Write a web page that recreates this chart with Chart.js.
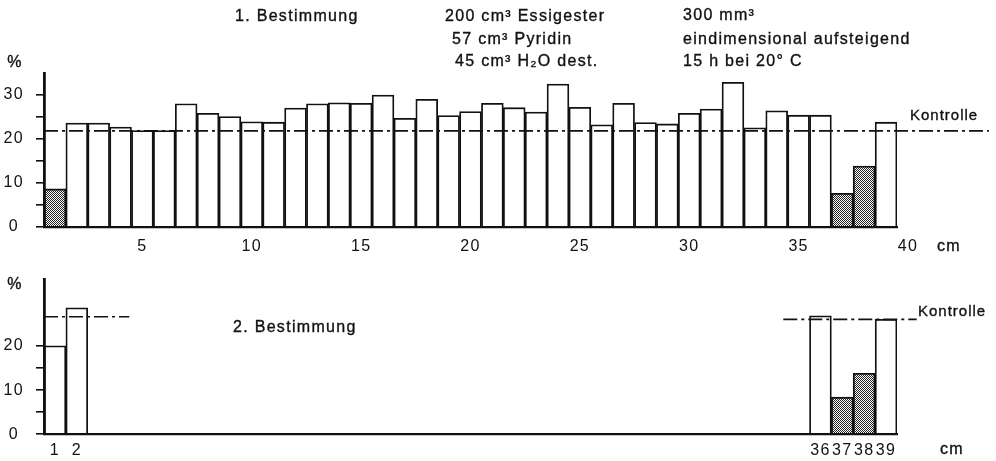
<!DOCTYPE html>
<html lang="de">
<head>
  <meta charset="UTF-8" />
  <title>1. und 2. Bestimmung</title>
  <script src="https://cdn.jsdelivr.net/npm/chart.js"></script>
  <style>
    html, body { margin: 0; padding: 0; background: #fff; }
    #wrap { position: relative; width: 996px; height: 461px; }
    canvas { position: absolute; left: 0; }
    #top { top: 0; }
    #bottom { top: 258px; }
  </style>
</head>
<body>
  <div id="wrap">
    <canvas id="top" width="996" height="258"></canvas>
    <canvas id="bottom" width="996" height="203"></canvas>
  </div>

  <script>
    // 1. Bestimmung: Abschnitte 1..39 cm, Werte in %
    const positions1 = [1, 2, 3, 4, 5, 6, 7, 8, 9, 10, 11, 12, 13, 14, 15, 16, 17, 18, 19, 20,
                        21, 22, 23, 24, 25, 26, 27, 28, 29, 30, 31, 32, 33, 34, 35, 36, 37, 38, 39];
    const values1 = [8.6, 23.6, 23.6, 22.7, 21.9, 21.9, 28.0, 25.8, 25.1, 23.9,
                     23.8, 27.0, 28.0, 28.2, 28.1, 30.0, 24.7, 29.0, 25.3, 26.2,
                     28.1, 27.1, 26.1, 32.5, 27.2, 23.2, 28.1, 23.7, 23.4, 25.8,
                     26.8, 32.9, 22.5, 26.4, 25.4, 25.4, 7.6, 13.8, 23.8];
    const dotted1 = [1, 37, 38];
    const control1 = 21.8;
    const control1Span = [0, 43.2];

    // 2. Bestimmung
    const positions2 = [1, 2, 36, 37, 38, 39];
    const values2 = [20, 28.6, 26.8, 8.4, 13.8, 26.0];
    const dotted2 = [37, 38];
    const control2Left = 26.6;
    const control2LeftSpan = [0, 3.9];
    const control2Right = 26.0;
    const control2RightSpan = [33.8, 39.9];

    // Achsen
    const xTicks1 = [5, 10, 15, 20, 25, 30, 35, 40];
    const xTicks2 = [1, 2, 36, 37, 38, 39];
    const yTicks1 = [0, 5, 10, 15, 20, 25, 30];
    const yTicks2 = [0, 5, 10, 15, 20];
    const yLabelled = [0, 10, 20, 30];

    const INK = '#111';
    const FONT = "'Liberation Sans', Arial, sans-serif";
    Chart.defaults.font.family = FONT;
    Chart.defaults.font.size = 16;
    Chart.defaults.color = INK;

    // feines Punktraster fuer die dunklen Balken
    function stipple() {
      const c = document.createElement('canvas');
      c.width = 2; c.height = 2;
      const g = c.getContext('2d');
      g.fillStyle = '#fff'; g.fillRect(0, 0, 2, 2);
      g.fillStyle = '#222'; g.fillRect(0, 0, 1, 1); g.fillRect(1, 1, 1, 1);
      return g.createPattern(c, 'repeat');
    }
    const dots = stipple();

    // freie Beschriftungen (Titel, %, cm, Kontrolle)
    const notes = {
      id: 'notes',
      beforeLayout(chart) { chart.ctx.letterSpacing = '1.3px'; },
      beforeDraw(chart) { chart.ctx.letterSpacing = '1.3px'; },
      afterDraw(chart, args, opts) {
        const ctx = chart.ctx;
        ctx.save();
        ctx.fillStyle = INK;
        ctx.strokeStyle = INK;
        ctx.lineWidth = 0.35;
        ctx.textBaseline = 'middle';
        (opts.items || []).forEach(t => {
          ctx.font = (t.size || 16) + 'px ' + FONT;
          ctx.letterSpacing = (t.spacing !== undefined ? t.spacing : 1.3) + 'px';
          ctx.textAlign = t.align || 'left';
          ctx.fillText(t.text, t.x, t.y);
          ctx.strokeText(t.text, t.x, t.y);
        });
        ctx.restore();
      }
    };

    function barChart(id, o) {
      return new Chart(document.getElementById(id), {
        type: 'bar',
        data: {
          datasets: [
            {
              type: 'bar',
              order: 1,
              data: o.positions.map((p, i) => ({ x: p - 0.5, y: o.values[i] })),
              backgroundColor: c => o.dotted.includes(o.positions[c.dataIndex]) ? dots : '#fff',
              borderColor: INK,
              borderWidth: 1.8,
              barPercentage: 1,
              categoryPercentage: 1
            },
            ...o.controls.map(k => ({
              type: 'line',
              order: 0,
              clip: false,
              data: k.span.map(x => ({ x: x, y: k.value })),
              borderColor: INK,
              borderWidth: 1.7,
              borderDash: [14, 4, 3, 4],
              pointRadius: 0,
              fill: false
            }))
          ]
        },
        options: {
          responsive: false,
          animation: false,
          layout: { padding: { top: o.top, right: 99, left: 0, bottom: 0 } },
          plugins: {
            legend: { display: false },
            tooltip: { enabled: false },
            notes: { items: o.notes }
          },
          scales: {
            x: {
              type: 'linear', min: 0, max: 39, offset: false,
              grid: { display: false, drawTicks: false },
              border: { color: INK, width: 2.2, z: 1 },
              afterBuildTicks: s => { s.ticks = o.xTicks.map(p => ({ value: p - 0.5 })); },
              afterFit: s => { s.height = o.xHeight; },
              ticks: { autoSkip: false, maxRotation: 0, padding: o.xPad, callback: v => String(v + 0.5) }
            },
            y: {
              min: 0, max: 35,
              grid: { drawOnChartArea: false, drawTicks: true, tickLength: 8, color: INK, lineWidth: 1.6 },
              border: { color: INK, width: 2.8, z: 1 },
              afterBuildTicks: s => { s.ticks = o.yTicks.map(v => ({ value: v })); },
              afterFit: s => { s.width = 44; },
              ticks: { crossAlign: 'center', padding: 12, callback: v => yLabelled.includes(v) ? String(v) : '' }
            }
          }
        },
        plugins: [notes]
      });
    }

    barChart('top', {
      positions: positions1, values: values1, dotted: dotted1,
      controls: [{ value: control1, span: control1Span }],
      xTicks: xTicks1, yTicks: yTicks1,
      top: 73, xHeight: 31.3, xPad: 10,
      notes: [
        { text: '1. Bestimmung', x: 235, y: 17 },
        { text: '200 cm³ Essigester', x: 445, y: 17 },
        { text: '57 cm³ Pyridin', x: 452, y: 40 },
        { text: '45 cm³ H₂O dest.', x: 455, y: 62 },
        { text: '300 mm³', x: 683, y: 16 },
        { text: 'eindimensional aufsteigend', x: 683, y: 40 },
        { text: '15 h bei 20° C', x: 683, y: 62 },
        { text: 'Kontrolle', x: 910, y: 116, size: 15, spacing: 1 },
        { text: '%', x: 15, y: 63, align: 'center' },
        { text: 'cm', x: 937, y: 247 }
      ]
    });

    barChart('bottom', {
      positions: positions2, values: values2, dotted: dotted2,
      controls: [
        { value: control2Left, span: control2LeftSpan },
        { value: control2Right, span: control2RightSpan }
      ],
      xTicks: xTicks2, yTicks: yTicks2,
      top: 17, xHeight: 26.7, xPad: 7,
      notes: [
        { text: '%', x: 15, y: 27, align: 'center' },
        { text: '2. Bestimmung', x: 233, y: 70 },
        { text: 'Kontrolle', x: 918, y: 54, size: 15, spacing: 1 },
        { text: 'cm', x: 940, y: 192 }
      ]
    });
  </script>
</body>
</html>
